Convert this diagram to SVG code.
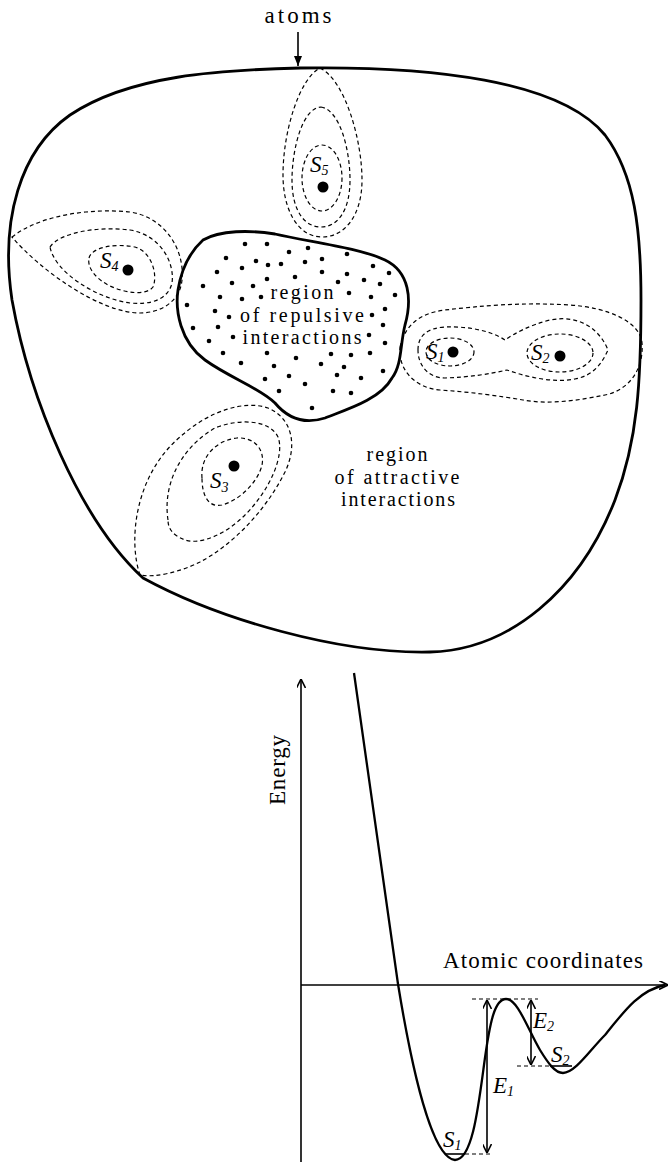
<svg xmlns="http://www.w3.org/2000/svg" width="669" height="1162" viewBox="0 0 669 1162">
<style>
.txt{font-family:"Liberation Serif","Times New Roman",serif;font-size:20px;fill:#000}
.big{font-size:23px}
.lab{font-family:"Liberation Serif","Times New Roman",serif;font-style:italic;font-size:23px;fill:#000}
.sub{font-size:14px}
.dash{fill:none;stroke:#000;stroke-width:1.2;stroke-dasharray:4 3}
.bold{fill:none;stroke:#000;stroke-width:2.8;stroke-linejoin:round}
.thin{fill:none;stroke:#000;stroke-width:1.6}
.dot{fill:#000}
</style>
<defs>
<marker id="vhead" viewBox="0 0 10 10" refX="10" refY="5" markerWidth="9" markerHeight="9" markerUnits="userSpaceOnUse" orient="auto-start-reverse">
<path d="M0,0 L10,5 L0,10" fill="none" stroke="#000" stroke-width="1.8"/>
</marker>
<marker id="fhead" viewBox="0 0 10 10" refX="10" refY="5" markerWidth="18" markerHeight="10" markerUnits="userSpaceOnUse" orient="auto">
<path d="M0,1 L10,5 L0,9 Z" fill="#000"/>
</marker>
</defs>

<g id="atoms-label">
<text class="txt big" x="298" y="23" text-anchor="middle" textLength="67" lengthAdjust="spacing">atoms</text>
</g>

<g id="outer-boundary">
<path class="bold" d="M300 68 C430 66 560 80 605 135 C635 175 641 230 641 300 C641 380 638 440 615 500 C580 590 510 650 430 652 C340 654 220 620 143 578 C80 520 30 400 12 300 C0 220 20 150 70 115 C130 75 220 70 300 68 Z"/>
</g>

<g id="repulsive-region">
<path class="bold" stroke-width="3" d="M203 240 C220 230 250 230 275 234 C310 242 360 248 385 260 C410 272 412 300 405 325 C400 345 402 365 392 378 C380 400 345 410 325 418 C300 426 285 415 275 403 C260 388 230 378 205 360 C180 342 175 310 178 290 C182 265 192 250 203 240 Z"/>
<g class="dot">
<circle cx="245" cy="244" r="2.3"/><circle cx="267" cy="244" r="2.3"/><circle cx="289" cy="252" r="2.3"/><circle cx="308" cy="248" r="2.3"/><circle cx="347" cy="254" r="2.3"/>
<circle cx="226" cy="258" r="2.3"/><circle cx="256" cy="261" r="2.3"/><circle cx="268" cy="265" r="2.3"/><circle cx="281" cy="264" r="2.3"/><circle cx="305" cy="262" r="2.3"/><circle cx="322" cy="259" r="2.3"/><circle cx="373" cy="266" r="2.3"/>
<circle cx="217" cy="272" r="2.3"/><circle cx="242" cy="268" r="2.3"/><circle cx="295" cy="277" r="2.3"/><circle cx="322" cy="272" r="2.3"/><circle cx="347" cy="274" r="2.3"/><circle cx="389" cy="273" r="2.3"/>
<circle cx="203" cy="286" r="2.3"/><circle cx="232" cy="283" r="2.3"/><circle cx="253" cy="286" r="2.3"/><circle cx="267" cy="279" r="2.3"/><circle cx="338" cy="282" r="2.3"/><circle cx="364" cy="280" r="2.3"/><circle cx="380" cy="284" r="2.3"/>
<circle cx="220" cy="297" r="2.3"/><circle cx="242" cy="299" r="2.3"/><circle cx="261" cy="297" r="2.3"/><circle cx="349" cy="293" r="2.3"/><circle cx="371" cy="297" r="2.3"/><circle cx="395" cy="295" r="2.3"/>
<circle cx="187" cy="305" r="2.3"/><circle cx="215" cy="311" r="2.3"/><circle cx="229" cy="317" r="2.3"/><circle cx="372" cy="315" r="2.3"/><circle cx="385" cy="309" r="2.3"/>
<circle cx="193" cy="328" r="2.3"/><circle cx="218" cy="327" r="2.3"/><circle cx="383" cy="325" r="2.3"/>
<circle cx="209" cy="341" r="2.3"/><circle cx="233" cy="337" r="2.3"/><circle cx="369" cy="335" r="2.3"/><circle cx="385" cy="343" r="2.3"/>
<circle cx="223" cy="353" r="2.3"/><circle cx="267" cy="353" r="2.3"/><circle cx="296" cy="358" r="2.3"/><circle cx="331" cy="354" r="2.3"/><circle cx="351" cy="355" r="2.3"/><circle cx="370" cy="353" r="2.3"/>
<circle cx="241" cy="363" r="2.3"/><circle cx="274" cy="366" r="2.3"/><circle cx="321" cy="364" r="2.3"/><circle cx="344" cy="367" r="2.3"/><circle cx="383" cy="371" r="2.3"/>
<circle cx="289" cy="376" r="2.3"/><circle cx="337" cy="375" r="2.3"/><circle cx="361" cy="378" r="2.3"/><circle cx="265" cy="379" r="2.3"/>
<circle cx="305" cy="384" r="2.3"/><circle cx="279" cy="391" r="2.3"/><circle cx="333" cy="391" r="2.3"/><circle cx="351" cy="393" r="2.3"/><circle cx="312" cy="408" r="2.3"/>
</g>
<text class="txt" x="302" y="299" text-anchor="middle" textLength="63" lengthAdjust="spacing">region</text>
<text class="txt" x="302" y="321.5" text-anchor="middle" textLength="124" lengthAdjust="spacing">of  repulsive</text>
<text class="txt" x="302" y="344" text-anchor="middle" textLength="119" lengthAdjust="spacing">interactions</text>
</g>

<g id="attractive-label">
<text class="txt" x="397" y="461" text-anchor="middle" textLength="61" lengthAdjust="spacing">region</text>
<text class="txt" x="397" y="483.5" text-anchor="middle" textLength="125" lengthAdjust="spacing">of  attractive</text>
<text class="txt" x="398" y="506" text-anchor="middle" textLength="114" lengthAdjust="spacing">interactions</text>
</g>

<g id="site-S5">
<path class="dash" d="M320 68 C345 80 362 140 362 180 C362 215 345 237 322 237 C298 237 283 210 283 175 C283 130 300 78 320 68 Z"/>
<path class="dash" d="M321 107 C340 110 350 150 350 180 C350 210 338 227 321 227 C304 227 292 210 292 180 C292 150 302 108 321 107 Z"/>
<ellipse class="dash" cx="322" cy="178" rx="20" ry="33"/>
<circle class="dot" cx="323" cy="187" r="5.5"/>
<text class="lab" x="310" y="172">S<tspan class="sub" dy="3">5</tspan></text>
</g>

<g id="site-S4">
<path class="dash" d="M12 237 C40 215 90 208 130 212 C165 217 185 250 182 280 C180 302 160 313 140 313 C100 313 40 270 12 237 Z"/>
<path class="dash" d="M50 247 C60 232 100 226 130 230 C160 235 175 262 172 283 C168 300 150 305 130 303 C95 298 55 272 50 247 Z"/>
<path class="dash" d="M89 258 C92 247 115 243 135 247 C152 252 158 275 153 287 C146 296 125 293 110 286 C96 279 87 268 89 258 Z"/>
<circle class="dot" cx="128" cy="270" r="5.5"/>
<text class="lab" x="100" y="268">S<tspan class="sub" dy="3">4</tspan></text>
</g>

<g id="site-S1-S2">
<path class="dash" d="M400 347 C405 325 420 313 445 310 C480 306 520 302 570 305 C610 308 640 322 642 343 C644 368 630 390 605 395 C580 400 550 405 523 400 C500 396 470 392 440 390 C415 388 398 370 400 347 Z"/>
<path class="dash" d="M418 350 C418 335 428 328 445 327 C465 326 490 330 505 340 C515 333 530 325 550 320 C580 314 600 330 608 350 C600 368 590 376 575 379 C555 383 530 378 507 370 C490 374 470 377 445 378 C428 378 418 365 418 350 Z"/>
<ellipse class="dash" cx="450" cy="352" rx="24" ry="14"/>
<ellipse class="dash" cx="560" cy="353" rx="33" ry="19"/>
<circle class="dot" cx="453" cy="352" r="5.5"/>
<circle class="dot" cx="560" cy="356" r="5.5"/>
<text class="lab" x="426" y="359">S<tspan class="sub" dy="3">1</tspan></text>
<text class="lab" x="531" y="360">S<tspan class="sub" dy="3">2</tspan></text>
</g>

<g id="site-S3">
<path class="dash" d="M140 575 C128 540 135 475 180 437 C210 410 245 400 268 408 C292 418 298 445 285 472 C265 512 232 545 200 562 C180 572 155 578 140 575 Z"/>
<path class="dash" d="M168 520 C162 480 185 445 215 428 C240 418 270 420 278 437 C285 455 270 490 245 515 C225 535 200 545 185 540 C172 535 168 528 168 520 Z"/>
<path class="dash" d="M202 478 C200 455 218 440 237 438 C255 437 265 450 262 465 C258 482 240 500 222 505 C208 508 202 495 202 478 Z"/>
<circle class="dot" cx="234" cy="466" r="5.5"/>
<text class="lab" x="210" y="488">S<tspan class="sub" dy="4">3</tspan></text>
</g>

<g id="energy-graph">
<text class="txt big" transform="translate(285 770) rotate(-90)" text-anchor="middle" textLength="70" lengthAdjust="spacing">Energy</text>
<text class="txt big" x="443" y="968" textLength="200" lengthAdjust="spacing">Atomic  coordinates</text>
<path fill="none" stroke="#000" stroke-width="2.3" d="M354 673 L398 984 C412 1070 432 1158 455 1160 C472 1160 478 1110 484 1065 C490 1020 495 999 506 999 C518 999 528 1030 540 1050 C548 1063 555 1073 563 1073 C575 1073 590 1050 605 1035 C625 1010 640 990 665 985"/>
<g class="dash" stroke-width="1">
<line x1="472" y1="999" x2="538" y2="999"/>
<line x1="517" y1="1066" x2="550" y2="1066"/>
<line x1="465" y1="1154" x2="493" y2="1154"/>
</g>
<line class="thin" x1="550" y1="1066" x2="572" y2="1066"/>
<line class="thin" x1="445" y1="1154" x2="465" y2="1154"/>
<text class="lab" x="443" y="1147">S<tspan class="sub" dy="3">1</tspan></text>
<text class="lab" x="551" y="1062">S<tspan class="sub" dy="3">2</tspan></text>
<text class="lab" x="533" y="1028">E<tspan class="sub" dy="3">2</tspan></text>
<text class="lab" x="493" y="1093">E<tspan class="sub" dy="3">1</tspan></text>
</g>

<g id="connectors">
<line x1="298" y1="32" x2="298" y2="66" stroke="#000" stroke-width="1.6" marker-end="url(#fhead)"/>
<line class="thin" x1="301" y1="1162" x2="301" y2="679" marker-end="url(#vhead)"/>
<line class="thin" x1="301" y1="985" x2="668" y2="985" marker-end="url(#vhead)"/>
<line class="thin" x1="487" y1="1000" x2="487" y2="1153" marker-start="url(#vhead)" marker-end="url(#vhead)"/>
<line class="thin" x1="531" y1="1000" x2="531" y2="1065" marker-start="url(#vhead)" marker-end="url(#vhead)"/>
</g>
</svg>
